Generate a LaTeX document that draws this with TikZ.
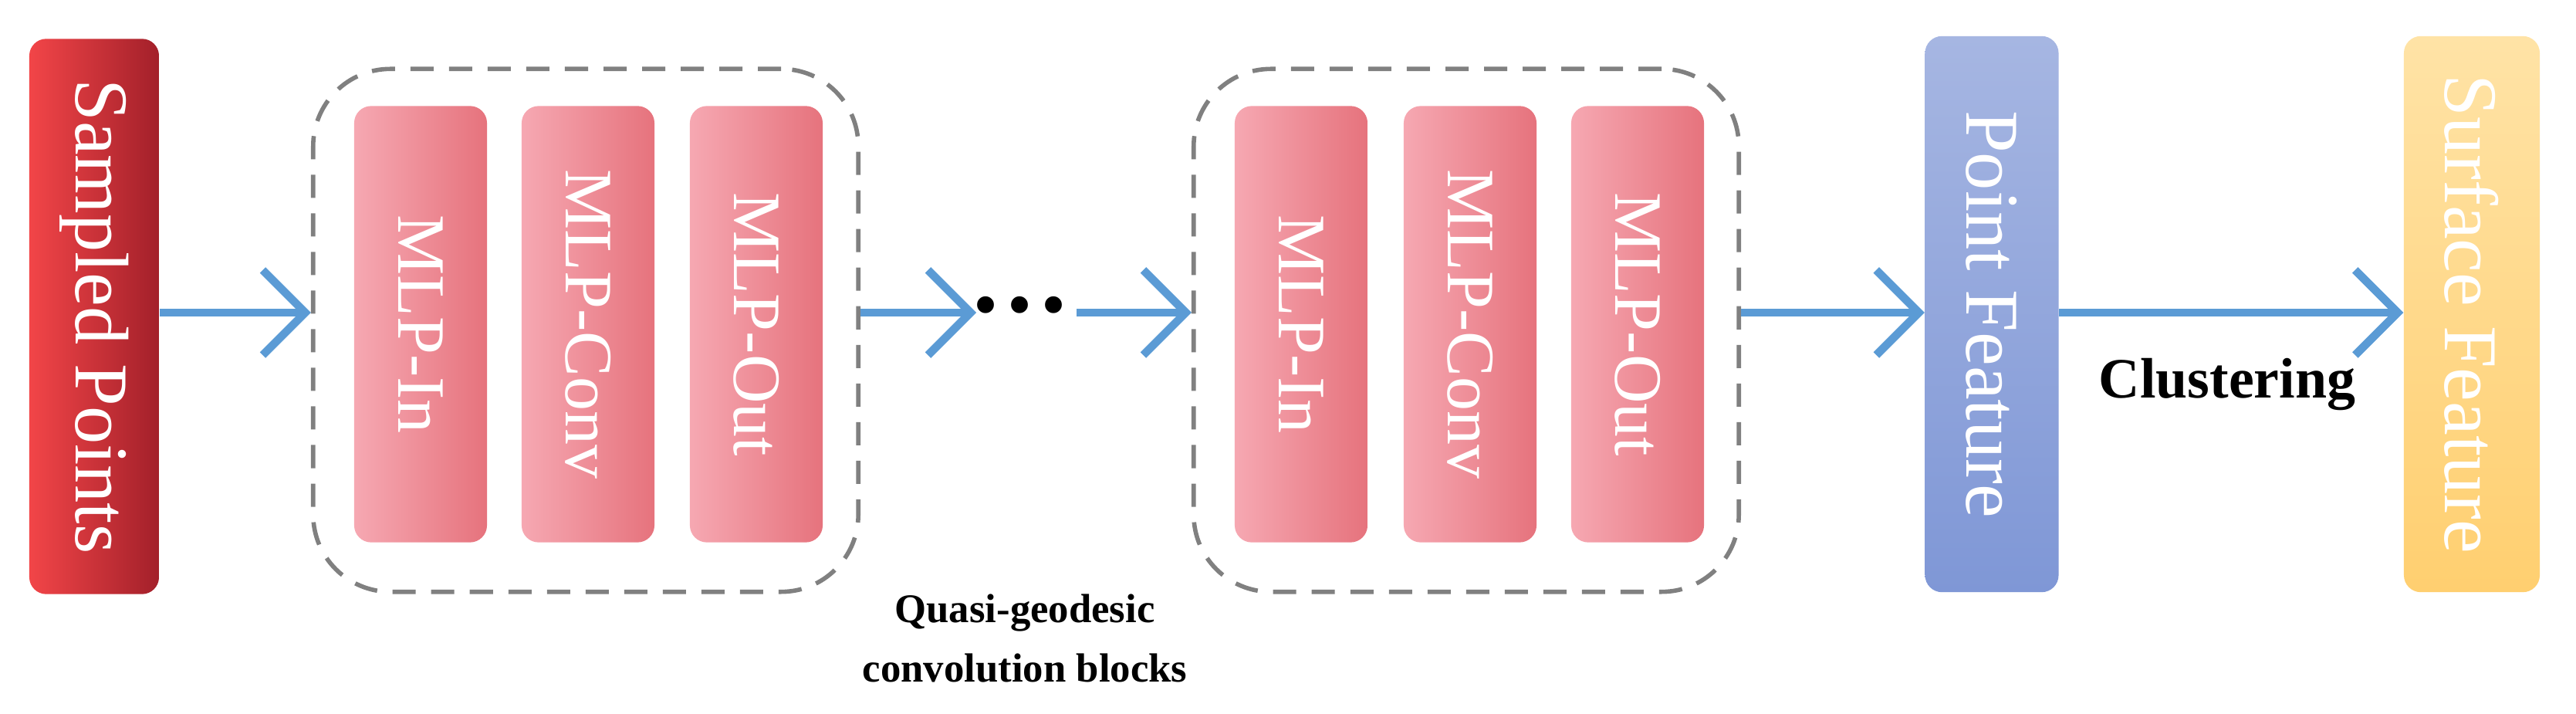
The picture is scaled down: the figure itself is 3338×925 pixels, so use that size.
\documentclass[tikz,border=0pt]{standalone}
\usepackage{fontspec}
\setmainfont{Liberation Serif}
\usetikzlibrary{arrows.meta}
\definecolor{arr}{HTML}{5B9BD5}
\definecolor{dashgray}{HTML}{808080}
\definecolor{spL}{HTML}{F24548}
\definecolor{spR}{HTML}{A3202A}
\tikzset{
  vbox/.style={rounded corners=0.22cm, inner sep=0pt, text=white, font=\fontsize{28}{30}\selectfont},
  mlp/.style={vbox, minimum width=1.72cm, minimum height=5.65cm, left color=mlpL, right color=mlpR, font=\fontsize{25}{27}\selectfont},
  grp/.style={draw=dashgray, dash pattern=on 0.3cm off 0.2cm, line width=1.6pt, rounded corners=1cm, minimum width=7.06cm, minimum height=6.77cm},
  flow/.style={draw=arr, line width=3pt, -{Straight Barb[length=0.55cm,width=1.1cm,line width=3pt]}}
}
\definecolor{mlpL}{HTML}{F6A8B2}
\definecolor{mlpR}{HTML}{E6737D}
\begin{document}
\begin{tikzpicture}[x=0.01cm,y=-0.01cm]
\useasboundingbox (0,0) rectangle (3338,925);
\node[vbox, minimum width=1.68cm, minimum height=7.19cm, left color=spL, right color=spR] (sp) at (122,410) {\rotatebox{-90}{Sampled Points}};
\node[grp] (g1) at (759,428) {};
\node[mlp] (a1) at (545,420) {\rotatebox{-90}{MLP-In}};
\node[mlp] (a2) at (762,420) {\rotatebox{-90}{MLP-Conv}};
\node[mlp] (a3) at (980,420) {\rotatebox{-90}{MLP-Out}};
\node[grp] (g2) at (1900,428) {};
\node[mlp] (b1) at (1686,420) {\rotatebox{-90}{MLP-In}};
\node[mlp] (b2) at (1905,420) {\rotatebox{-90}{MLP-Conv}};
\node[mlp] (b3) at (2122,420) {\rotatebox{-90}{MLP-Out}};
\definecolor{pfT}{HTML}{A6B6E2}\definecolor{pfB}{HTML}{7F97D6}
\definecolor{sfT}{HTML}{FFE3A6}\definecolor{sfB}{HTML}{FFCF70}
\node[vbox, minimum width=1.73cm, minimum height=7.2cm, top color=pfT, bottom color=pfB] (pf) at (2581,407) {\rotatebox{-90}{Point Feature}};
\node[vbox, minimum width=1.76cm, minimum height=7.2cm, top color=sfT, bottom color=sfB] (sf) at (3203,407) {\rotatebox{-90}{Surface Feature}};
\coordinate (d1) at (1265,405);
\coordinate (d2) at (1395,405);
\node[font=\fontsize{26}{26}\selectfont, inner sep=0pt] (dots) at (1322,405) {\textbullet\hspace{0.12cm}\textbullet\hspace{0.12cm}\textbullet};
\draw[flow] (sp.east |- 0,405) -- (g1.west |- 0,405);
\draw[flow] (g1.east |- 0,405) -- (d1);
\draw[flow] (d2) -- (g2.west |- 0,405);
\draw[flow] (g2.east |- 0,405) -- (pf.west |- 0,405);
\draw[flow] (pf.east |- 0,405) -- (sf.west |- 0,405);
\node[font=\fontsize{21}{24}\selectfont\bfseries] (cl) at (2886,498) {Clustering};
\node[font=\fontsize{15}{22}\selectfont\bfseries, align=center] (qg) at (1328,827) {Quasi-geodesic\\convolution blocks};
\end{tikzpicture}
\end{document}
